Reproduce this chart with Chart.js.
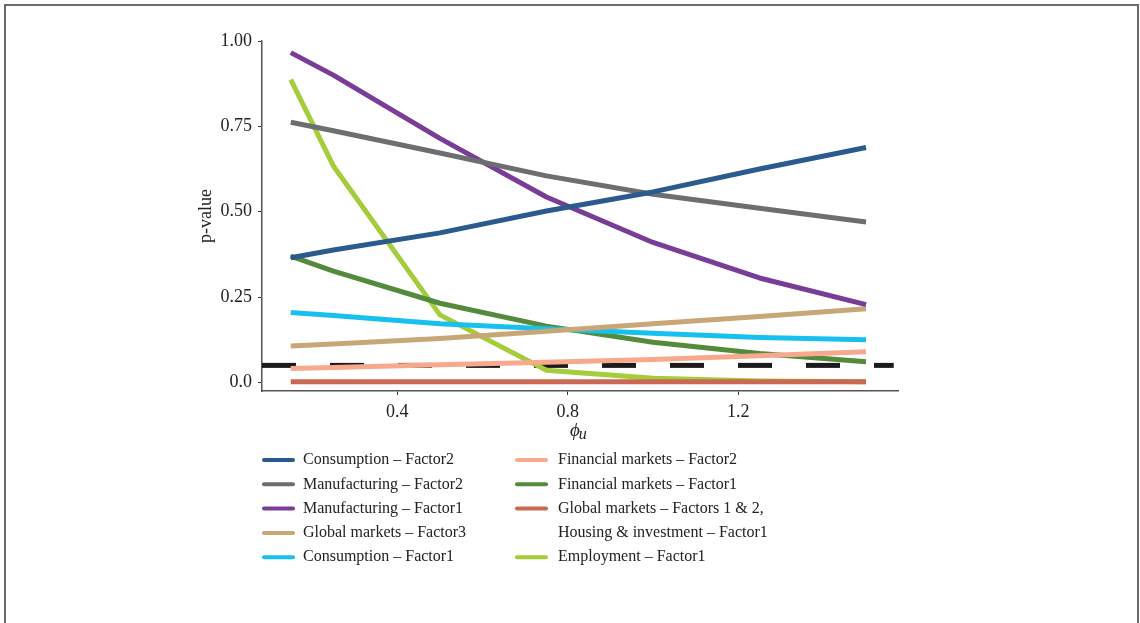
<!DOCTYPE html>
<html>
<head>
<meta charset="utf-8">
<title>p-value by phi_u</title>
<script src="https://cdn.jsdelivr.net/npm/chart.js@4.4.0/dist/chart.umd.min.js"></script>
<style>
  body { margin: 0; background: #fff; overflow: hidden; }
  #wrap { position: relative; width: 1140px; height: 623px; }
  #frame {
    position: absolute; left: 4px; top: 4px; width: 1131px; height: 640px;
    border: 2px solid #6b6b6b; border-bottom: none; pointer-events: none;
  }
</style>
</head>
<body>
<div id="wrap">
  <canvas id="pvalChart" width="1140" height="623"></canvas>
  <div id="frame"></div>
</div>
<script>
// phi_u grid
const phiU = [0.15, 0.25, 0.5, 0.75, 1.0, 1.25, 1.5];

// p-values per series
const consumptionF2 = [0.365, 0.388, 0.438, 0.502, 0.558, 0.625, 0.688];
const manufacturingF2 = [0.762, 0.737, 0.672, 0.605, 0.551, 0.510, 0.470];
const manufacturingF1 = [0.966, 0.900, 0.715, 0.543, 0.410, 0.306, 0.228];
const globalF3 = [0.107, 0.113, 0.129, 0.150, 0.172, 0.193, 0.216];
const consumptionF1 = [0.205, 0.196, 0.172, 0.157, 0.144, 0.132, 0.125];
const financialF2 = [0.041, 0.044, 0.052, 0.059, 0.067, 0.078, 0.090];
const financialF1 = [0.370, 0.326, 0.232, 0.165, 0.118, 0.085, 0.061];
const globalF12Housing = [0.002, 0.002, 0.002, 0.002, 0.002, 0.002, 0.002];
const employmentF1 = [0.887, 0.634, 0.198, 0.036, 0.012, 0.004, 0.002];

const seriesNames = [
  'Consumption – Factor2',
  'Manufacturing – Factor2',
  'Manufacturing – Factor1',
  'Global markets – Factor3',
  'Consumption – Factor1',
  'Financial markets – Factor2',
  'Financial markets – Factor1',
  'Global markets – Factors 1 & 2,\nHousing & investment – Factor1',
  'Employment – Factor1'
];
const seriesValues = [
  consumptionF2, manufacturingF2, manufacturingF1, globalF3, consumptionF1,
  financialF2, financialF1, globalF12Housing, employmentF1
];
const seriesColors = [
  '#2b5a8e', '#6d6e71', '#7a3d97', '#c8a676', '#17c0ef',
  '#f8a98d', '#538a3b', '#cb6853', '#a5cc3a'
];

// 5% significance reference
const significance = 0.05;
const refLineX = [0.0825, 1.565];

const xTickValues = [0.4, 0.8, 1.2];
const xTickLabels = ['0.4', '0.8', '1.2'];
const yTickValues = [0, 0.25, 0.5, 0.75, 1.0];
const yTickLabels = ['0.0', '0.25', '0.50', '0.75', '1.00'];

const SERIF = '"Liberation Serif", "DejaVu Serif", serif';
const TEXT = '#222222';

const datasets = seriesValues.map((vals, i) => ({
  label: seriesNames[i],
  data: phiU.map((x, j) => ({ x: x, y: vals[j] })),
  borderColor: seriesColors[i],
  backgroundColor: seriesColors[i],
  borderWidth: 5,
  pointRadius: 0,
  tension: 0,
  borderCapStyle: 'butt',
  borderJoinStyle: 'round'
}));

// dashed line goes last so it sits under everything
datasets.push({
  label: '',
  data: refLineX.map(x => ({ x: x, y: significance })),
  borderColor: '#1c1a1b',
  borderWidth: 5,
  borderDash: [34, 34],
  borderCapStyle: 'butt',
  pointRadius: 0
});

// two-column legend under the plot
const legendBelow = {
  id: 'legendBelow',
  afterDraw(chart) {
    const ctx = chart.ctx;
    const swatchX = [262, 515];
    const textX = [303, 558];
    const rowY = 460, rowH = 24.3;
    ctx.save();
    ctx.font = '16px ' + SERIF;
    ctx.textBaseline = 'middle';
    ctx.lineCap = 'round';
    ctx.lineWidth = 4;
    let col = 0, row = 0;
    chart.data.datasets.forEach(ds => {
      if (!ds.label) return;
      if (col === 0 && row >= 5) { col = 1; row = 0; }
      const y = rowY + row * rowH;
      ctx.strokeStyle = ds.borderColor;
      ctx.beginPath();
      ctx.moveTo(swatchX[col] + 2, y);
      ctx.lineTo(swatchX[col] + 31, y);
      ctx.stroke();
      ctx.fillStyle = TEXT;
      ds.label.split('\n').forEach(line => {
        ctx.fillText(line, textX[col], rowY + row * rowH);
        row++;
      });
    });
    ctx.restore();
  }
};

// italic phi with subscript u as the x-axis title
const phiTitle = {
  id: 'phiTitle',
  afterDraw(chart) {
    const ctx = chart.ctx;
    const area = chart.chartArea;
    const cx = (area.left + area.right) / 2 - 10;
    ctx.save();
    ctx.fillStyle = TEXT;
    ctx.textBaseline = 'alphabetic';
    ctx.font = 'italic 19px ' + SERIF;
    ctx.fillText('ϕ', cx, 436);
    const w = ctx.measureText('ϕ').width;
    ctx.font = 'italic 16px ' + SERIF;
    ctx.fillText('u', cx + w - 1, 439);
    ctx.restore();
  }
};

new Chart(document.getElementById('pvalChart'), {
  type: 'line',
  data: { datasets: datasets },
  options: {
    responsive: false,
    animation: false,
    layout: { padding: { left: 191, right: 242, top: 41, bottom: 194 } },
    plugins: {
      legend: { display: false },
      tooltip: { enabled: false }
    },
    scales: {
      x: {
        type: 'linear',
        min: 0.0825,
        max: 1.575,
        afterBuildTicks: scale => { scale.ticks = xTickValues.map(v => ({ value: v })); },
        afterFit: scale => { scale.height = 38; },
        grid: { display: true, drawOnChartArea: false, drawTicks: true, tickLength: 4, color: '#333' },
        border: { display: true, color: '#555', width: 1.5 },
        ticks: {
          padding: 6,
          color: TEXT,
          font: { family: SERIF, size: 18 },
          maxRotation: 0,
          callback: v => xTickLabels[xTickValues.indexOf(v)]
        }
      },
      y: {
        min: -0.025,
        max: 1.0,
        afterBuildTicks: scale => { scale.ticks = yTickValues.map(v => ({ value: v })); },
        afterFit: scale => { scale.width = 71; },
        grid: { display: true, drawOnChartArea: false, drawTicks: true, tickLength: 4, color: '#333' },
        border: { display: true, color: '#555', width: 1.5 },
        title: {
          display: true,
          text: 'p-value',
          color: TEXT,
          font: { family: SERIF, size: 18 },
          padding: { top: 4, bottom: 4 }
        },
        ticks: {
          padding: 6,
          color: TEXT,
          font: { family: SERIF, size: 18 },
          callback: v => yTickLabels[yTickValues.indexOf(v)]
        }
      }
    }
  },
  plugins: [legendBelow, phiTitle]
});
</script>
</body>
</html>
